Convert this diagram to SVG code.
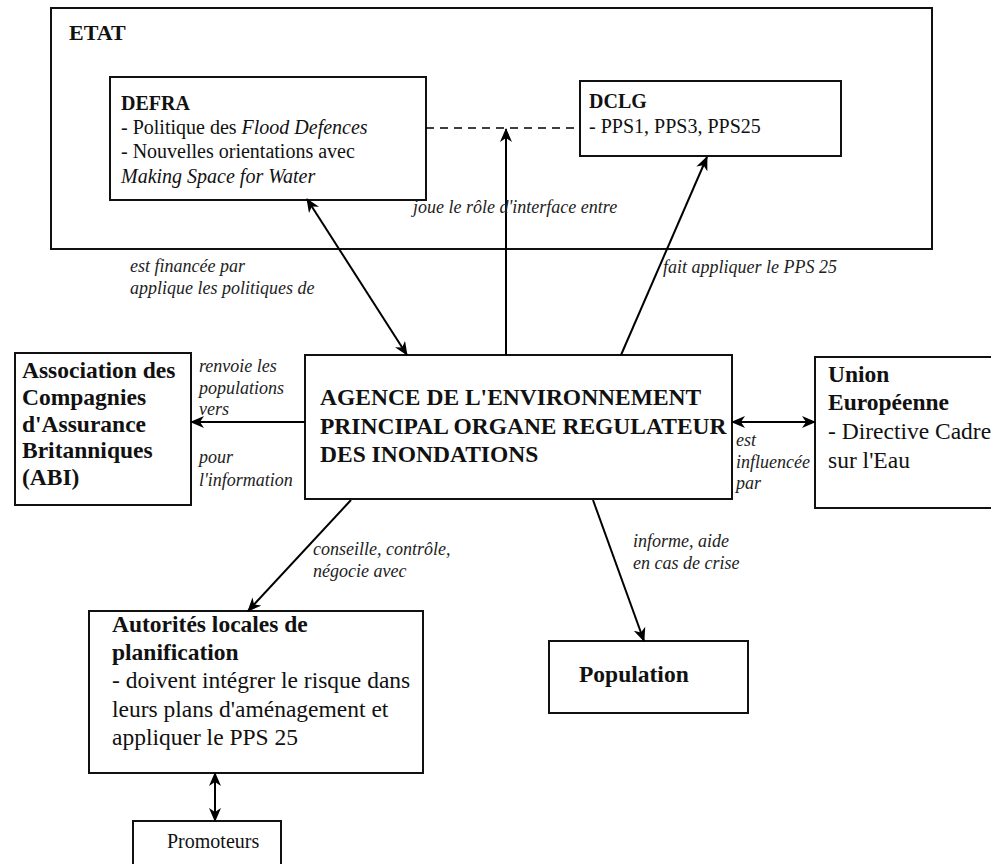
<svg xmlns="http://www.w3.org/2000/svg" width="991" height="864" viewBox="0 0 991 864">
<defs>
<marker id="ah" viewBox="0 0 14 12" refX="13" refY="6" markerWidth="14" markerHeight="12" markerUnits="userSpaceOnUse" orient="auto-start-reverse"><path d="M0,0 L14,6 L0,12 L4,6 Z" fill="#000"/></marker>
<style>
.box{fill:#fff;stroke:#111;stroke-width:2}
.frame{fill:none;stroke:#111;stroke-width:2}
.c{fill:none;stroke:#000;stroke-width:2}
.t{font-family:"Liberation Serif","Times New Roman",serif;fill:#111}
.hb{font-weight:bold;font-size:23.5px}
.n20{font-size:20px}
.n23{font-size:23.5px}
.lab{font-style:italic;font-size:18px;fill:#222}
</style>
</defs>
<rect width="991" height="864" fill="#fff"/>
<g id="etat">
<rect class="frame" x="51" y="8" width="881" height="241"/>
<text class="t" x="69" y="40" font-weight="bold" font-size="22">ETAT</text>
</g>
<g id="defra">
<rect class="box" x="110" y="77" width="316" height="123"/>
<text class="t n20" x="121" y="110" font-weight="bold">DEFRA</text>
<text class="t n20" x="121" y="134">- Politique des <tspan font-style="italic">Flood Defences</tspan></text>
<text class="t n20" x="121" y="158">- Nouvelles orientations avec</text>
<text class="t n20" x="121" y="183" font-style="italic">Making Space for Water</text>
</g>
<g id="dclg">
<rect class="box" x="580" y="81" width="261" height="75"/>
<text class="t n20" x="589" y="108" font-weight="bold">DCLG</text>
<text class="t n20" x="589" y="133">- PPS1, PPS3, PPS25</text>
</g>
<g id="agence">
<rect class="box" x="305" y="355" width="427" height="144"/>
<text class="t hb" x="320" y="405">AGENCE DE L'ENVIRONNEMENT</text>
<text class="t hb" x="320" y="434">PRINCIPAL ORGANE REGULATEUR</text>
<text class="t hb" x="320" y="462">DES INONDATIONS</text>
</g>
<g id="abi">
<rect class="box" x="15" y="353" width="176" height="152"/>
<text class="t hb" x="22" y="378">Association des</text>
<text class="t hb" x="22" y="405">Compagnies</text>
<text class="t hb" x="22" y="432">d'Assurance</text>
<text class="t hb" x="22" y="458">Britanniques</text>
<text class="t hb" x="22" y="485">(ABI)</text>
</g>
<g id="ue">
<rect class="box" x="815" y="357" width="190" height="151"/>
<text class="t hb" x="828" y="382">Union</text>
<text class="t hb" x="828" y="410">Européenne</text>
<text class="t n23" x="828" y="439">- Directive Cadre</text>
<text class="t n23" x="828" y="468">sur l'Eau</text>
</g>
<g id="autorites">
<rect class="box" x="89" y="611" width="334" height="162"/>
<text class="t hb" x="112" y="632">Autorités locales de</text>
<text class="t hb" x="112" y="660">planification</text>
<text class="t n23" x="112" y="688">- doivent intégrer le risque dans</text>
<text class="t n23" x="112" y="717">leurs plans d'aménagement et</text>
<text class="t n23" x="112" y="745">appliquer le PPS 25</text>
</g>
<g id="population">
<rect class="box" x="549" y="641" width="199" height="72"/>
<text class="t hb" x="579" y="682">Population</text>
</g>
<g id="promoteurs">
<rect class="box" x="133" y="821" width="148" height="60"/>
<text class="t n20" x="167" y="848">Promoteurs</text>
</g>
<g id="connectors">
<line class="c" x1="307" y1="199" x2="407" y2="355" marker-start="url(#ah)" marker-end="url(#ah)"/>
<line class="c" x1="506" y1="355" x2="506" y2="129" marker-end="url(#ah)"/>
<line x1="426" y1="128" x2="580" y2="128" stroke="#000" stroke-width="1.3" stroke-dasharray="8,6"/>
<line class="c" x1="621" y1="355" x2="707" y2="157" marker-end="url(#ah)"/>
<line class="c" x1="305" y1="422" x2="191" y2="422" marker-end="url(#ah)"/>
<line class="c" x1="732" y1="422" x2="815" y2="422" marker-start="url(#ah)" marker-end="url(#ah)"/>
<line class="c" x1="351" y1="500" x2="248" y2="611" marker-end="url(#ah)"/>
<line class="c" x1="593" y1="500" x2="644" y2="641" marker-end="url(#ah)"/>
<line class="c" x1="215" y1="773" x2="215" y2="821" marker-start="url(#ah)" marker-end="url(#ah)"/>
</g>
<g id="labels">
<text class="t lab" x="413" y="213">joue le rôle d'interface entre</text>
<text class="t lab" x="663" y="273">fait appliquer le PPS 25</text>
<text class="t lab" x="130" y="272">est financée par</text>
<text class="t lab" x="130" y="294">applique les politiques de</text>
<text class="t lab" x="199" y="372">renvoie les</text>
<text class="t lab" x="199" y="394">populations</text>
<text class="t lab" x="199" y="415">vers</text>
<text class="t lab" x="199" y="463">pour</text>
<text class="t lab" x="199" y="486">l'information</text>
<text class="t lab" x="736" y="446">est</text>
<text class="t lab" x="736" y="468">influencée</text>
<text class="t lab" x="736" y="489">par</text>
<text class="t lab" x="313" y="555">conseille, contrôle,</text>
<text class="t lab" x="313" y="577">négocie avec</text>
<text class="t lab" x="633" y="547">informe, aide</text>
<text class="t lab" x="633" y="569">en cas de crise</text>
</g>
</svg>
